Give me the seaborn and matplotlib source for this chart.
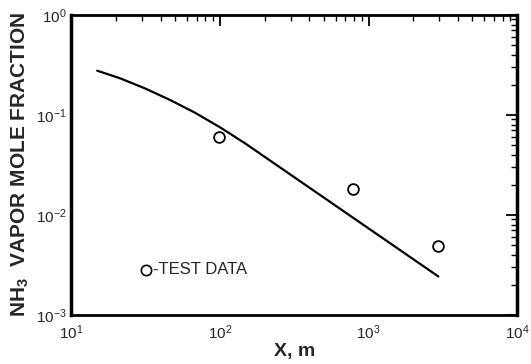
import numpy as np
import matplotlib.pyplot as plt
import seaborn as sns
from matplotlib.ticker import LogLocator, NullFormatter

sns.set_style("white")
plt.rcParams['font.family'] = ['Liberation Sans', 'DejaVu Sans']
plt.rcParams['mathtext.fontset'] = 'custom'
plt.rcParams['mathtext.rm'] = 'Liberation Sans'
plt.rcParams['mathtext.bf'] = 'Liberation Sans:bold'

# Model curve
curve_x = [14.96, 21.4, 31.4, 46.3, 68.2, 100.5, 148, 2950]
curve_y = [0.277, 0.232, 0.184, 0.141, 0.105, 0.075, 0.0519, 0.00242]

# Test data points
test_x = [98, 791, 2950]
test_y = [0.0598, 0.0182, 0.00493]

fig, ax = plt.subplots(figsize=(5.31, 3.64), dpi=100)
fig.subplots_adjust(left=0.134, right=0.974, top=0.959, bottom=0.135)

sns.lineplot(x=curve_x, y=curve_y, ax=ax, color='black', linewidth=1.6, sort=False)
sns.scatterplot(x=test_x, y=test_y, ax=ax, marker='o', s=60, facecolor='white',
                edgecolor='black', linewidth=1.3, zorder=3)

ax.set_xscale('log')
ax.set_yscale('log')
ax.set_xlim(10, 1e4)
ax.set_ylim(1e-3, 1)

ax.xaxis.set_major_locator(LogLocator(base=10, numticks=10))
ax.yaxis.set_major_locator(LogLocator(base=10, numticks=10))
ax.xaxis.set_minor_locator(LogLocator(base=10, subs=np.arange(2, 10), numticks=10))
ax.yaxis.set_minor_locator(LogLocator(base=10, subs=np.arange(2, 10), numticks=10))
ax.xaxis.set_minor_formatter(NullFormatter())
ax.yaxis.set_minor_formatter(NullFormatter())

ax.tick_params(which='both', direction='in', top=True, right=True, color='black')
ax.tick_params(which='major', length=8, width=1.3, labelsize=11)
ax.tick_params(which='minor', length=4, width=1.0)
ax.tick_params(axis='x', which='major', pad=6)
ax.tick_params(axis='y', which='major', pad=3)

for side in ['left', 'right', 'top', 'bottom']:
    ax.spines[side].set_color('black')
ax.spines['left'].set_linewidth(2.5)
ax.spines['right'].set_linewidth(2.5)
ax.spines['top'].set_linewidth(2.0)
ax.spines['bottom'].set_linewidth(2.0)

ax.set_xlabel("X, m", fontsize=14, fontweight='bold', labelpad=1)
ax.set_ylabel(r"NH$_\mathbf{3}$  VAPOR MOLE FRACTION", fontsize=15, fontweight='bold',
              labelpad=4)

# Key for the test data
ax.scatter([0.168], [0.15], transform=ax.transAxes, marker='o', s=55,
           facecolor='white', edgecolor='black', linewidth=1.2, clip_on=False)
ax.text(0.183, 0.15, "-TEST DATA", transform=ax.transAxes, fontsize=12,
        va='center', ha='left')

plt.savefig("out.png", dpi=100)
